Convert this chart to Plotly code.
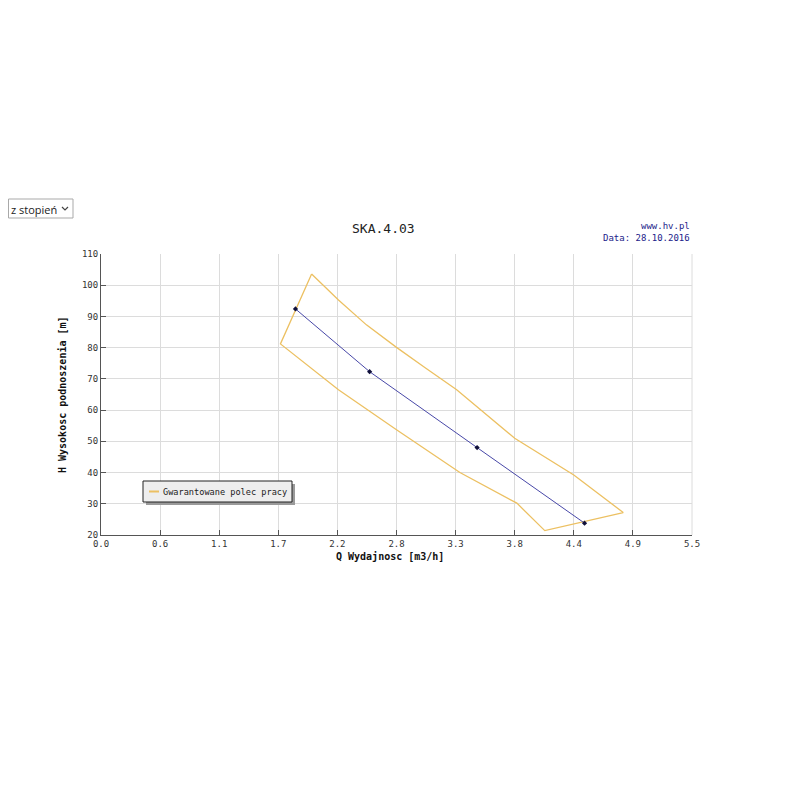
import plotly.graph_objects as go

# ---- data ----
q_line = [1.81, 2.50, 3.50, 4.50]
h_line = [92.4, 72.3, 48.0, 23.8]

# guaranteed working field (closed polygon)
q_field = [1.96, 2.21, 2.47, 2.75, 3.02, 3.31, 3.85, 4.40, 4.86,
           4.13, 3.87, 3.34, 2.75, 2.21, 1.67, 1.96]
h_field = [103.6, 95.3, 87.3, 80.1, 73.5, 66.5, 51.0, 39.2, 27.2,
           21.4, 30.2, 40.0, 53.7, 66.5, 81.2, 103.6]

x_tickvals = [0.0, 0.55, 1.1, 1.65, 2.2, 2.75, 3.3, 3.85, 4.4, 4.95, 5.5]
x_ticktext = ["0.0", "0.6", "1.1", "1.7", "2.2", "2.8", "3.3", "3.8", "4.4", "4.9", "5.5"]
y_tickvals = [20, 30, 40, 50, 60, 70, 80, 90, 100, 110]

title_text = "SKA.4.03"
site_text = "www.hv.pl"
date_text = "Data: 28.10.2016"
x_title = "Q Wydajnosc [m3/h]"
y_title = "H Wysokosc podnoszenia [m]"
legend_name = "Gwarantowane polec pracy"
dropdown_text = "z stopień"

MONO = "DejaVu Sans Mono"
FIELD_COLOR = "#ecc062"

fig = go.Figure()
fig.add_trace(go.Scatter(
    x=q_field, y=h_field, mode="lines", name=legend_name,
    line=dict(color=FIELD_COLOR, width=1.3), showlegend=False,
))
fig.add_trace(go.Scatter(
    x=q_line, y=h_line, mode="lines+markers", name="H(Q)",
    line=dict(color="#4848a8", width=1),
    marker=dict(color="#10103a", size=4, symbol="diamond"),
    showlegend=False,
))

# page has an 8px body margin; reference plot area: x 101..692 px, y 254..535 px
OFF = 8
L, R, T, B = 101, 692, 254, 535
W, H = R - L, B - T
def px(x):
    return (x - L) / W
def py(y):
    return (B - y) / H

fig.update_layout(
    width=800, height=800,
    margin=dict(l=L - OFF, r=800 - (R - OFF), t=T - OFF, b=800 - (B - OFF), pad=0),
    paper_bgcolor="white", plot_bgcolor="white",
    font=dict(family=MONO, size=9, color="#333333"),
    xaxis=dict(range=[0, 5.5], tickvals=x_tickvals, ticktext=x_ticktext,
               showgrid=True, gridcolor="#dcdcdc", gridwidth=1,
               showline=True, linecolor="#555555", linewidth=1,
               ticks="inside", ticklen=5, tickcolor="#555555",
               zeroline=False, tickfont=dict(family=MONO, size=9, color="#333333"),
               fixedrange=True),
    yaxis=dict(range=[20, 110], tickvals=y_tickvals,
               showgrid=True, gridcolor="#dcdcdc", gridwidth=1,
               showline=True, linecolor="#555555", linewidth=1,
               ticks="inside", ticklen=5, tickcolor="#555555",
               zeroline=False, tickfont=dict(family=MONO, size=9, color="#333333"),
               fixedrange=True),
    showlegend=False,
)

# right border gridline look
fig.add_shape(type="line", xref="paper", yref="paper", x0=1, x1=1, y0=0, y1=1,
              line=dict(color="#dcdcdc", width=1), layer="below")

# legend: shadow, box, line sample
fig.add_shape(type="rect", xref="paper", yref="paper",
              x0=px(146), x1=px(295), y0=py(484), y1=py(505),
              fillcolor="#9a9a9a", line=dict(width=0), layer="above")
fig.add_shape(type="rect", xref="paper", yref="paper",
              x0=px(143), x1=px(292), y0=py(481), y1=py(502),
              fillcolor="#eeeeee", line=dict(color="#222222", width=1), layer="above")
fig.add_shape(type="line", xref="paper", yref="paper",
              x0=px(149), x1=px(159), y0=py(491.5), y1=py(491.5),
              line=dict(color=FIELD_COLOR, width=2), layer="above")

annotations = [
    dict(text=legend_name, x=px(161), y=py(491.5), xref="paper", yref="paper",
         showarrow=False, xanchor="left", yanchor="middle",
         font=dict(family=MONO, size=8.6, color="#222222")),
    dict(text=title_text, x=px(383), y=py(228), xref="paper", yref="paper",
         showarrow=False, xanchor="center", yanchor="middle",
         font=dict(family=MONO, size=13, color="#222222")),
    dict(text=site_text, x=1.0, y=py(226), xref="paper", yref="paper",
         showarrow=False, xanchor="right", yanchor="middle",
         font=dict(family=MONO, size=9, color="#22228a")),
    dict(text=date_text, x=1.0, y=py(238), xref="paper", yref="paper",
         showarrow=False, xanchor="right", yanchor="middle",
         font=dict(family=MONO, size=9, color="#22228a")),
    dict(text="<b>" + x_title + "</b>", x=px(390), y=py(556), xref="paper", yref="paper",
         showarrow=False, xanchor="center", yanchor="middle",
         font=dict(family=MONO, size=10, color="#111111")),
    dict(text="<b>" + y_title + "</b>", x=px(62), y=py(395), xref="paper", yref="paper",
         showarrow=False, xanchor="center", yanchor="middle", textangle=-90,
         font=dict(family=MONO, size=10, color="#111111")),
    dict(text=dropdown_text, x=px(9), y=py(209), xref="paper", yref="paper",
         showarrow=False, xanchor="left", yanchor="middle",
         font=dict(family="Open Sans", size=11, color="#222222")),
]
fig.update_layout(annotations=annotations)

# dropdown box
fig.add_shape(type="rect", xref="paper", yref="paper",
              x0=px(8.5), x1=px(73), y0=py(218), y1=py(199),
              line=dict(color="#a9a9a9", width=1), fillcolor="rgba(0,0,0,0)")
fig.add_shape(type="path", xref="paper", yref="paper",
              path=f"M {px(62)},{py(207)} L {px(65)},{py(210)} L {px(68)},{py(207)}",
              line=dict(color="#444444", width=1.2))

fig.write_html("out.html")
